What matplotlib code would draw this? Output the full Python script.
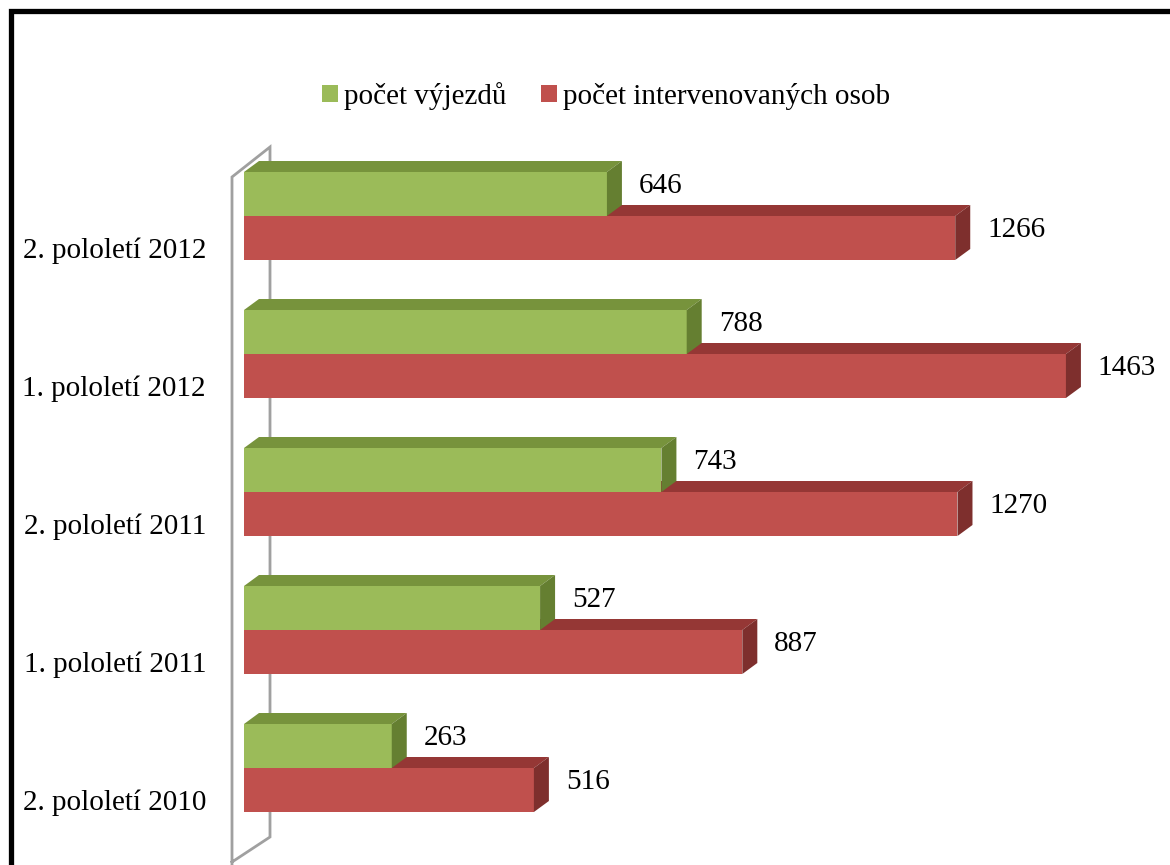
import matplotlib.pyplot as plt
from matplotlib.patches import Polygon, Patch
from matplotlib.lines import Line2D

plt.rcParams['font.family'] = ['Liberation Serif', 'DejaVu Serif']

# data
categories = ['2. pololetí 2010', '1. pololetí 2011', '2. pololetí 2011',
              '1. pololetí 2012', '2. pololetí 2012']
vyjezdy = [263, 527, 743, 788, 646]
osoby = [516, 887, 1270, 1463, 1266]
series_names = ['počet výjezdů', 'počet intervenovaných osob']

GREEN = '#9BBB59'
GREEN_TOP = '#77933C'
GREEN_SIDE = '#657F31'
RED = '#C0504D'
RED_TOP = '#953735'
RED_SIDE = '#7E2F2D'

# pixel geometry of the picture (1170x865)
W, H = 1170, 865
X0 = 244          # pixel where value 0 sits
PX = 0.5618       # pixels per unit
Y0 = 768          # pixel (from top) of the first category baseline
STEP = 138        # pixels between categories

bar_h = 44 / STEP
dx = 15 / PX      # depth of the 3d bars
dy = 11 / STEP

fig = plt.figure(figsize=(W / 100, H / 100), dpi=100)
ax = fig.add_axes([0, 0, 1, 1])
ax.set_xlim(-X0 / PX, (W - X0) / PX)
ax.set_ylim((Y0 - H) / STEP, Y0 / STEP)
ax.axis('off')


def bar3d(y0, val, front, top, side, z):
    y1 = y0 + bar_h
    ax.barh(y0 + bar_h / 2, val, height=bar_h, color=front, zorder=z)
    ax.add_patch(Polygon([(0, y1), (val, y1), (val + dx, y1 + dy), (dx, y1 + dy)],
                         closed=True, color=top, lw=0, zorder=z))
    ax.add_patch(Polygon([(val, y0), (val, y1), (val + dx, y1 + dy), (val + dx, y0 + dy)],
                         closed=True, color=side, lw=0, zorder=z))


# back wall (gray outline)
wx_front = (232 - X0) / PX
wx_back = (270 - X0) / PX
n = len(categories)
wall_back = [(wx_back, -0.5), (wx_back, n - 0.5)]
wall_front = [(wx_front, -0.5 - 25 / STEP), (wx_front, n - 0.5 - 30 / STEP)]
ax.plot([wall_front[0][0], wall_front[1][0], wall_back[1][0], wall_back[0][0], wall_front[0][0]],
        [-1.5, wall_front[1][1], wall_back[1][1], wall_back[0][1], wall_front[0][1]],
        color='#A0A0A0', lw=2, zorder=1, solid_joinstyle='miter')

lbl_off = 17 / PX
for k, (cat, g, r) in enumerate(zip(categories, vyjezdy, osoby)):
    bar3d(k - bar_h, r, RED, RED_TOP, RED_SIDE, 2)
    bar3d(k, g, GREEN, GREEN_TOP, GREEN_SIDE, 3)
    ax.text(g + dx + lbl_off, k + bar_h / 2 + dy, str(g), fontsize=21,
            ha='left', va='center_baseline')
    ax.text(r + dx + lbl_off, k - bar_h / 2 + dy, str(r), fontsize=21,
            ha='left', va='center_baseline')
    ax.text((206 - X0) / PX, k - 32 / STEP, cat, fontsize=21,
            ha='right', va='center_baseline')

# legend
handles = [Patch(facecolor=GREEN, edgecolor='none'), Patch(facecolor=RED, edgecolor='none')]
fig.legend(handles, series_names, loc='center', bbox_to_anchor=(0.518, 1 - 96 / H),
           ncol=2, frameon=False, fontsize=21, handlelength=0.55, handleheight=0.55,
           handletextpad=0.2, columnspacing=1.2)

# black frame of the picture
fig.add_artist(Line2D([10.5 / W, 10.5 / W, 1.0], [0.0, 1 - 11 / H, 1 - 11 / H],
                      transform=fig.transFigure, color='black', lw=3.8,
                      solid_joinstyle='miter'))

fig.savefig('out.png', dpi=100, facecolor='white')
